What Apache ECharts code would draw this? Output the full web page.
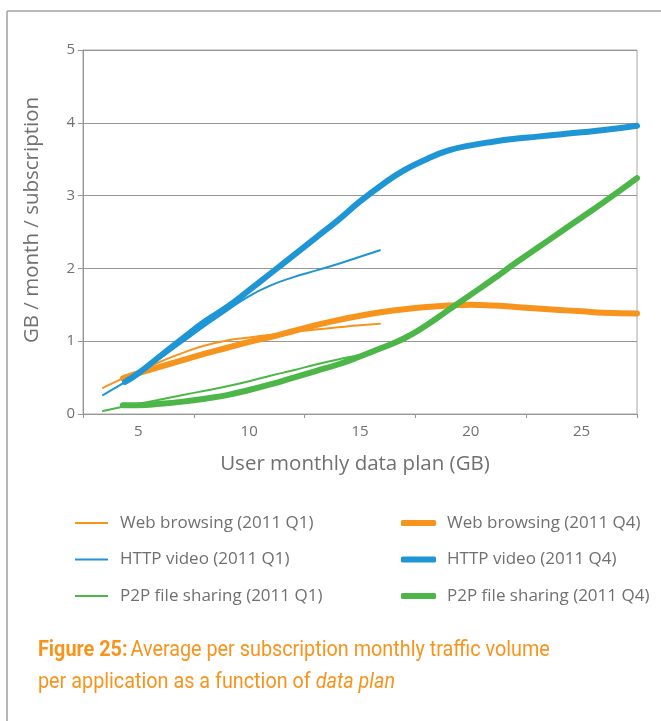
<!DOCTYPE html>
<html>
<head>
<meta charset="UTF-8">
<title>Traffic per data plan</title>
<script src="https://cdn.jsdelivr.net/npm/echarts@6/dist/echarts.min.js"></script>
<style>
  html, body { margin: 0; padding: 0; background: #fff; }
  #chart { width: 661px; height: 721px; }
</style>
</head>
<body>
<div id="chart"></div>
<script>
// x = user monthly data plan (GB), y = GB / month / subscription
var webQ1  = [[3.4,0.36],[4.3,0.49],[5,0.58],[6,0.72],[7,0.84],[8,0.94],[9,1.01],[10,1.05],[11,1.09],[12,1.13],[13,1.16],[14,1.19],[15,1.22],[15.9,1.24]];
var httpQ1 = [[3.4,0.26],[4.3,0.42],[5,0.55],[6,0.77],[7,0.99],[8,1.21],[9,1.42],[10,1.62],[11,1.77],[12,1.88],[13,1.97],[14,2.06],[15,2.16],[15.9,2.25]];
var p2pQ1  = [[3.4,0.04],[4.3,0.1],[5,0.14],[6,0.2],[7,0.26],[8,0.32],[9,0.38],[10,0.45],[11,0.53],[12,0.6],[13,0.68],[14,0.75],[15,0.81],[15.9,0.88]];
var webQ4  = [[4.3,0.49],[5,0.56],[6,0.65],[7,0.74],[8,0.83],[9,0.91],[10,0.99],[11,1.06],[12,1.14],[13,1.22],[14,1.29],[15,1.35],[16,1.4],[17,1.44],[18,1.47],[19,1.49],[20,1.5],[21,1.49],[22,1.47],[23,1.45],[24,1.43],[25,1.41],[26,1.39],[27.5,1.38]];
var httpQ4 = [[4.4,0.44],[5,0.56],[6,0.8],[7,1.04],[8,1.27],[9,1.47],[10,1.7],[11,1.94],[12,2.18],[13,2.42],[14,2.66],[15,2.92],[16,3.15],[17,3.35],[18,3.5],[19,3.62],[20,3.69],[21,3.74],[22,3.78],[23,3.81],[24,3.84],[25,3.87],[26,3.9],[27.5,3.96]];
var p2pQ4  = [[4.3,0.12],[5,0.12],[6,0.14],[7,0.17],[8,0.21],[9,0.26],[10,0.33],[11,0.41],[12,0.5],[13,0.59],[14,0.68],[15,0.79],[16,0.91],[17,1.04],[18,1.22],[19,1.43],[20,1.64],[21,1.85],[22,2.07],[23,2.28],[24,2.49],[25,2.7],[26,2.91],[27.5,3.24]];

var xTicks  = [2.5, 7.5, 12.5, 17.5, 22.5, 27.5];
var xLabels = [5, 10, 15, 20, 25];

var ORANGE = '#f7941d', BLUE = '#1e95d4', GREEN = '#4cb748';
var GRAY = '#969696', TEXT = '#707070';
var FONT = 'Open Sans';

function line(name, data, color, width) {
    return {
        name: name, type: 'line', data: data, smooth: true,
        showSymbol: false, symbol: 'none',
        lineStyle: {color: color, width: width, cap: 'round'},
        itemStyle: {color: color}
    };
}

var chart = echarts.init(document.getElementById('chart'), null, {renderer: 'canvas'});

// caption: narrow face imitated by squeezing a normal font
var capStyle = {fontFamily: 'Roboto', fontSize: 22, fill: ORANGE, lineHeight: 32};

chart.setOption({
    animation: false,
    backgroundColor: '#fff',
    graphic: [
        {type: 'line', shape: {x1: 7, y1: 11, x2: 661, y2: 11}, style: {stroke: '#a0a0a0', lineWidth: 1.5}},
        {type: 'line', shape: {x1: 7, y1: 11, x2: 7, y2: 721}, style: {stroke: '#a0a0a0', lineWidth: 1.5}},
        {
            type: 'text', x: 38, y: 634, scaleX: 0.9,
            style: {
                text: '{b|Figure 25:} {n|Average per subscription monthly traffic volume}\n{n|per application as a function of }{i|data plan}',
                verticalAlign: 'top',
                rich: {
                    b: Object.assign({}, capStyle, {fontWeight: 'bold'}),
                    n: capStyle,
                    i: Object.assign({}, capStyle, {fontStyle: 'italic'})
                }
            }
        }
    ],
    legend: [
        {
            left: 75, top: 513, padding: 0, orient: 'vertical', itemGap: 16.5,
            itemWidth: 33, itemHeight: 2, icon: 'rect',
            textStyle: {fontFamily: FONT, fontSize: 17, color: TEXT, lineHeight: 20, padding: [0, 0, 0, 7]},
            data: ['Web browsing (2011 Q1)', 'HTTP video (2011 Q1)', 'P2P file sharing (2011 Q1)']
        },
        {
            left: 401, top: 513, padding: 0, orient: 'vertical', itemGap: 16.5,
            itemWidth: 35, itemHeight: 6, icon: 'roundRect',
            textStyle: {fontFamily: FONT, fontSize: 17, color: TEXT, lineHeight: 20, padding: [0, 0, 0, 6]},
            data: ['Web browsing (2011 Q4)', 'HTTP video (2011 Q4)', 'P2P file sharing (2011 Q4)']
        }
    ],
    grid: {
        left: 83, top: 50, width: 554, height: 364,
        show: true, borderColor: '#a8a8a8', borderWidth: 1
    },
    xAxis: {
        type: 'value', min: 2.5, max: 27.5, interval: 2.5,
        name: 'User monthly data plan (GB)', nameLocation: 'middle', nameGap: 40,
        nameTextStyle: {fontFamily: FONT, fontSize: 20.5, color: TEXT, padding: [0, 10, 0, 0]},
        axisLine: {show: true, lineStyle: {color: GRAY, width: 1}},
        axisTick: {show: true, length: 4, customValues: xTicks, lineStyle: {color: GRAY}},
        axisLabel: {customValues: xLabels, margin: 10, fontFamily: FONT, fontSize: 15, color: TEXT},
        splitLine: {show: false}
    },
    yAxis: {
        type: 'value', min: 0, max: 5, interval: 1,
        name: 'GB / month / subscription', nameLocation: 'middle', nameGap: 40,
        nameTextStyle: {fontFamily: FONT, fontSize: 20.5, color: TEXT, padding: [0, 0, 0, 24]},
        axisLine: {show: true, lineStyle: {color: GRAY, width: 1}},
        axisTick: {show: true, length: 5, lineStyle: {color: GRAY}},
        axisLabel: {margin: 8, fontFamily: FONT, fontSize: 15, color: TEXT},
        splitLine: {show: true, lineStyle: {color: GRAY, width: 1}}
    },
    series: [
        line('Web browsing (2011 Q1)', webQ1, ORANGE, 2),
        line('HTTP video (2011 Q1)', httpQ1, BLUE, 2),
        line('P2P file sharing (2011 Q1)', p2pQ1, GREEN, 2),
        line('Web browsing (2011 Q4)', webQ4, ORANGE, 6),
        line('HTTP video (2011 Q4)', httpQ4, BLUE, 6),
        line('P2P file sharing (2011 Q4)', p2pQ4, GREEN, 6)
    ]
});
</script>
</body>
</html>
